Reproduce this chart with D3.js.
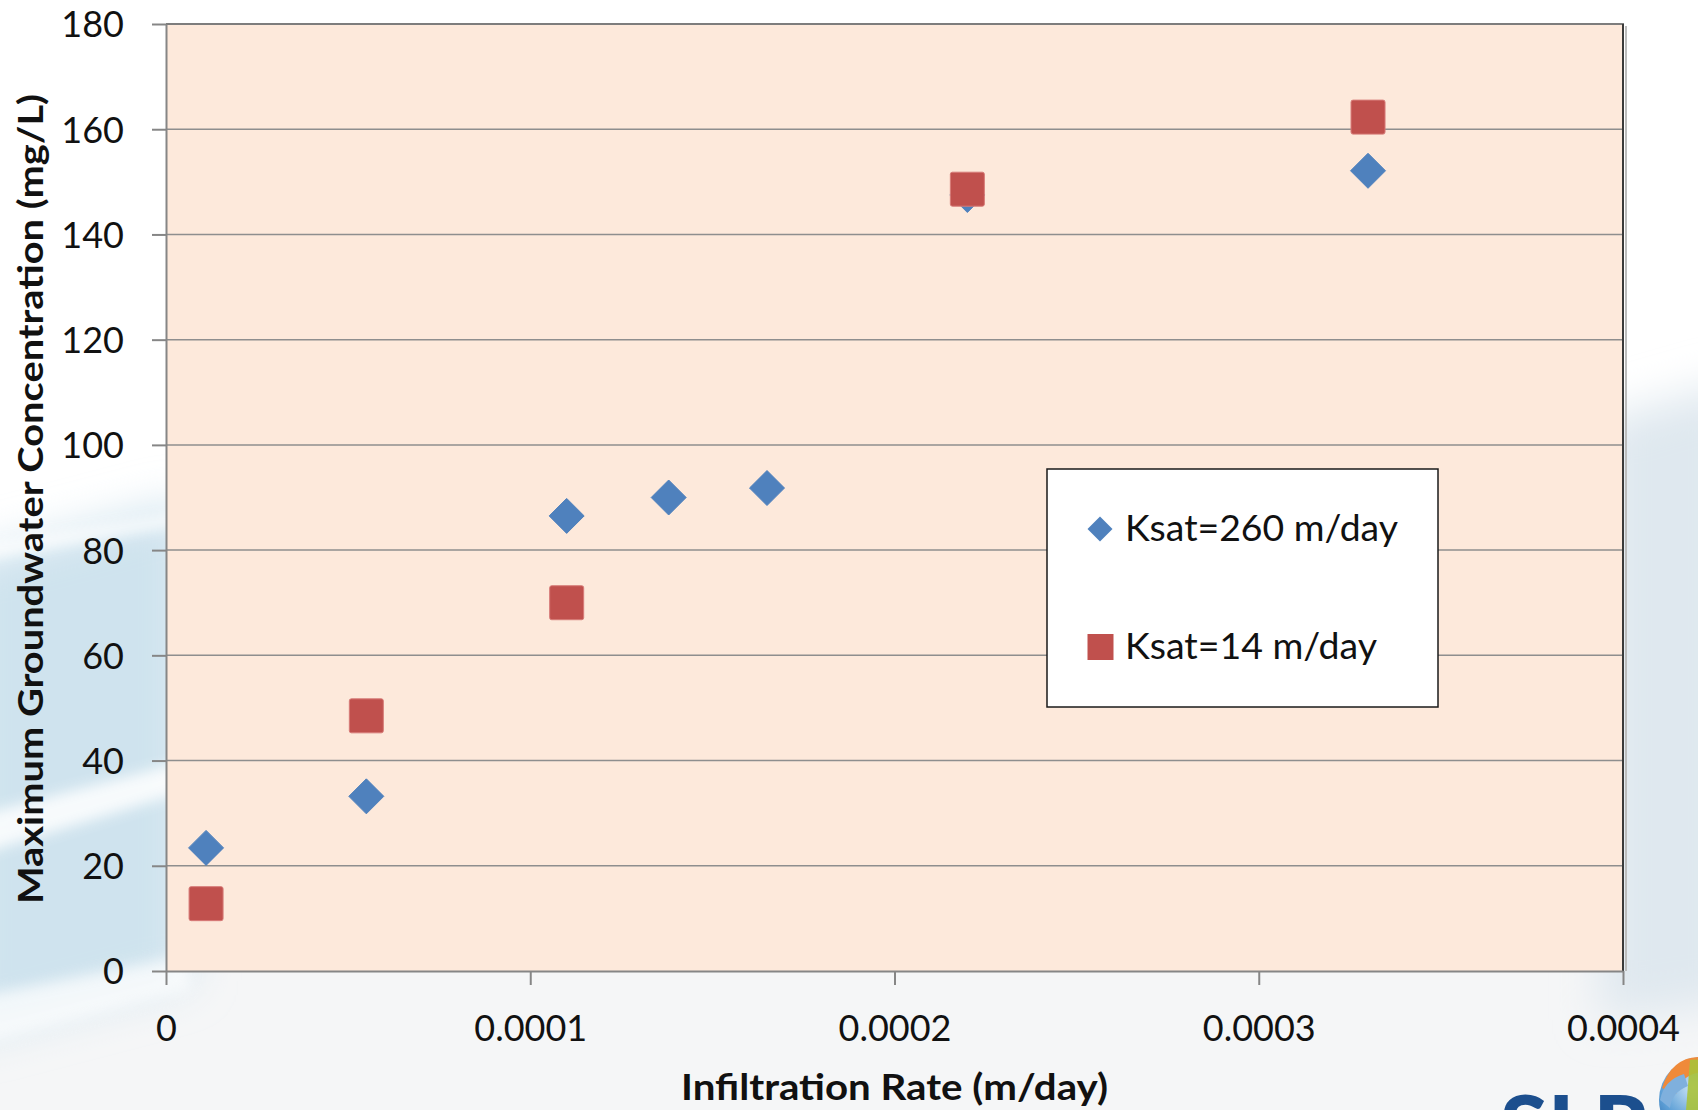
<!DOCTYPE html>
<html>
<head>
<meta charset="utf-8">
<script src="https://cdn.jsdelivr.net/npm/d3@7"></script>
<style>
  html, body { margin: 0; padding: 0; background: #ffffff; overflow: hidden; }
  svg { display: block; }
</style>
</head>
<body>
<svg id="chart" width="1698" height="1110"></svg>
<script>
// ---- data ----
const xTicks = [0, 0.0001, 0.0002, 0.0003, 0.0004];
const xTickLabels = ["0", "0.0001", "0.0002", "0.0003", "0.0004"];
const yTicks = [0, 20, 40, 60, 80, 100, 120, 140, 160, 180];
const yTickLabels = ["0", "20", "40", "60", "80", "100", "120", "140", "160", "180"];

const seriesNames = ["Ksat=260 m/day", "Ksat=14 m/day"];
const ksat260X = [0.000011, 0.000055, 0.00011, 0.000138, 0.000165, 0.00022, 0.00033];
const ksat260Y = [23.4, 33.2, 86.5, 90.0, 91.8, 147.5, 152.1];
const ksat14X = [0.000011, 0.000055, 0.00011, 0.00022, 0.00033];
const ksat14Y = [12.8, 48.5, 70.0, 148.6, 162.3];

const xTitle = "Infiltration Rate (m/day)";
const yTitle = "Maximum Groundwater Concentration (mg/L)";

// ---- layout ----
const W = 1698, H = 1110;
const plot = { left: 166, right: 1623, top: 24, bottom: 971 };
const FONT = "Lato, 'Open Sans', sans-serif";

const svg = d3.select("#chart");
const defs = svg.append("defs");

// soft slide background
defs.append("filter").attr("id", "soft").attr("x", "-50%").attr("y", "-50%").attr("width", "200%").attr("height", "200%")
  .append("feGaussianBlur").attr("stdDeviation", 22);
defs.append("filter").attr("id", "softSmall").attr("x", "-50%").attr("y", "-50%").attr("width", "200%").attr("height", "200%")
  .append("feGaussianBlur").attr("stdDeviation", 7);

const bg = svg.append("g").attr("class", "background");
bg.append("rect").attr("width", W).attr("height", H).attr("fill", "#ffffff");
bg.append("rect").attr("x", 0).attr("y", 960).attr("width", W).attr("height", 150).attr("fill", "#f5f6f7");

// left blue panel
bg.append("path").attr("d", "M-40,560 L190,500 L190,980 L-40,1040 Z")
  .attr("fill", "#cfe3ee").attr("filter", "url(#soft)");
bg.append("path").attr("d", "M-40,548 L190,512 L190,522 L-40,562 Z")
  .attr("fill", "#ffffff").attr("opacity", 0.9).attr("filter", "url(#softSmall)");
bg.append("path").attr("d", "M-40,820 L190,760 L190,790 L-40,860 Z")
  .attr("fill", "#ffffff").attr("opacity", 0.85).attr("filter", "url(#softSmall)");
bg.append("path").attr("d", "M-40,1000 L190,955 L190,990 L-40,1050 Z")
  .attr("fill", "#ffffff").attr("opacity", 0.7).attr("filter", "url(#softSmall)");

// right blue-grey panel
bg.append("path").attr("d", "M1600,420 L1740,380 L1740,1000 L1600,1020 Z")
  .attr("fill", "#dfe8ef").attr("filter", "url(#soft)");

// ---- scales ----
const x = d3.scaleLinear().domain([0, 0.0004]).range([plot.left, plot.right]);
const y = d3.scaleLinear().domain([0, 180]).range([plot.bottom, plot.top]);

// plot area
svg.append("rect")
  .attr("x", plot.left).attr("y", plot.top)
  .attr("width", plot.right - plot.left).attr("height", plot.bottom - plot.top)
  .attr("fill", "#fde9db");

// horizontal gridlines
svg.append("g").selectAll("line")
  .data(yTicks.filter(v => v > 0 && v < 180))
  .join("line")
  .attr("x1", plot.left).attr("x2", plot.right)
  .attr("y1", d => y(d)).attr("y2", d => y(d))
  .attr("stroke", "#8e8e8e").attr("stroke-width", 1.5);

// plot border (top and right)
svg.append("line").attr("x1", plot.left).attr("x2", plot.right + 1)
  .attr("y1", plot.top).attr("y2", plot.top)
  .attr("stroke", "#7d7d7d").attr("stroke-width", 2);
svg.append("line").attr("x1", plot.right + 3).attr("x2", plot.right + 3)
  .attr("y1", plot.top + 2).attr("y2", plot.bottom)
  .attr("stroke", "#bdbdbd").attr("stroke-width", 2);
svg.append("line").attr("x1", plot.right).attr("x2", plot.right)
  .attr("y1", plot.top).attr("y2", plot.bottom)
  .attr("stroke", "#3a3a3a").attr("stroke-width", 2);

// ---- axes ----
const yAxis = d3.axisLeft(y)
  .tickValues(yTicks)
  .tickFormat((d, i) => yTickLabels[i])
  .tickSizeInner(14).tickSizeOuter(0).tickPadding(28);
const gy = svg.append("g").attr("transform", `translate(${plot.left},0)`).call(yAxis);

const xAxis = d3.axisBottom(x)
  .tickValues(xTicks)
  .tickFormat((d, i) => xTickLabels[i])
  .tickSizeInner(14).tickSizeOuter(0).tickPadding(30);
const gx = svg.append("g").attr("transform", `translate(0,${plot.bottom})`).call(xAxis);

[gx, gy].forEach(g => {
  g.select(".domain").attr("stroke", "#868686").attr("stroke-width", 2);
  g.selectAll(".tick line").attr("stroke", "#868686").attr("stroke-width", 2);
  g.selectAll(".tick text")
    .attr("fill", "#111111")
    .style("font-family", FONT)
    .style("font-size", "36px");
});
gy.selectAll(".tick text").attr("dy", "0.36em");

// axis titles
svg.append("text")
  .attr("x", (plot.left + plot.right) / 2).attr("y", 1100)
  .attr("text-anchor", "middle")
  .attr("textLength", 427).attr("lengthAdjust", "spacingAndGlyphs")
  .style("font-family", FONT).style("font-size", "36px").style("font-weight", 700)
  .attr("fill", "#111111")
  .text(xTitle);

svg.append("text")
  .attr("transform", "translate(43,499) rotate(-90)")
  .attr("text-anchor", "middle")
  .attr("textLength", 810).attr("lengthAdjust", "spacingAndGlyphs")
  .style("font-family", FONT).style("font-size", "35px").style("font-weight", 700)
  .attr("fill", "#111111")
  .text(yTitle);

// ---- markers ----
const diamond = (cx, cy, r) => `M${cx},${cy - r}L${cx + r},${cy}L${cx},${cy + r}L${cx - r},${cy}Z`;
const BLUE = "#4f81bd", RED = "#c0504d";

svg.append("g").selectAll("path")
  .data(ksat260X.map((v, i) => [v, ksat260Y[i]]))
  .join("path")
  .attr("d", d => diamond(x(d[0]), y(d[1]), 17.5))
  .attr("fill", BLUE)
  .attr("stroke", BLUE).attr("stroke-width", 1).attr("stroke-linejoin", "round");

const SQ = 34;
svg.append("g").selectAll("rect")
  .data(ksat14X.map((v, i) => [v, ksat14Y[i]]))
  .join("rect")
  .attr("x", d => x(d[0]) - SQ / 2).attr("y", d => y(d[1]) - SQ / 2)
  .attr("width", SQ).attr("height", SQ).attr("rx", 2)
  .attr("fill", RED)
  .attr("stroke", "#d77b78").attr("stroke-width", 1);

// ---- legend ----
const legend = svg.append("g");
legend.append("rect")
  .attr("x", 1047).attr("y", 469).attr("width", 391).attr("height", 238)
  .attr("fill", "#ffffff").attr("stroke", "#1a1a1a").attr("stroke-width", 1.5);
legend.append("path").attr("d", diamond(1100, 529, 12.5)).attr("fill", BLUE);
legend.append("rect").attr("x", 1087.5).attr("y", 634).attr("width", 26).attr("height", 26).attr("fill", RED);
legend.append("text").attr("x", 1125).attr("y", 541)
  .attr("textLength", 273).attr("lengthAdjust", "spacingAndGlyphs")
  .style("font-family", FONT).style("font-size", "36px").attr("fill", "#111111")
  .text(seriesNames[0]);
legend.append("text").attr("x", 1125).attr("y", 659)
  .attr("textLength", 252).attr("lengthAdjust", "spacingAndGlyphs")
  .style("font-family", FONT).style("font-size", "36px").attr("fill", "#111111")
  .text(seriesNames[1]);

// ---- corner logo ----
const logo = svg.append("g");
logo.append("text").attr("x", 1500).attr("y", 1157)
  .attr("textLength", 150).attr("lengthAdjust", "spacingAndGlyphs")
  .style("font-family", FONT).style("font-size", "86px").style("font-weight", 900)
  .attr("fill", "#1c4f8e").text("SLR");
const globeGrad = defs.append("radialGradient").attr("id", "globe").attr("cx", "40%").attr("cy", "35%").attr("r", "70%");
globeGrad.append("stop").attr("offset", "0%").attr("stop-color", "#cfe6f7");
globeGrad.append("stop").attr("offset", "55%").attr("stop-color", "#5d9fd6");
globeGrad.append("stop").attr("offset", "100%").attr("stop-color", "#1f5c9e");
logo.append("circle").attr("cx", 1702).attr("cy", 1100).attr("r", 43).attr("fill", "url(#globe)");
logo.append("path").attr("d", "M1662,1088 Q1672,1056 1702,1057 L1706,1072 Q1682,1072 1676,1094 Z").attr("fill", "#ef8a3a");
logo.append("path").attr("d", "M1690,1060 Q1700,1058 1708,1064 L1700,1110 L1686,1110 Z").attr("fill", "#a8c23a").attr("opacity", 0.9);
logo.append("path").attr("d", "M1660,1100 Q1664,1080 1684,1074 L1688,1086 Q1672,1092 1670,1108 Z").attr("fill", "#7fb0dd");
</script>
</body>
</html>
